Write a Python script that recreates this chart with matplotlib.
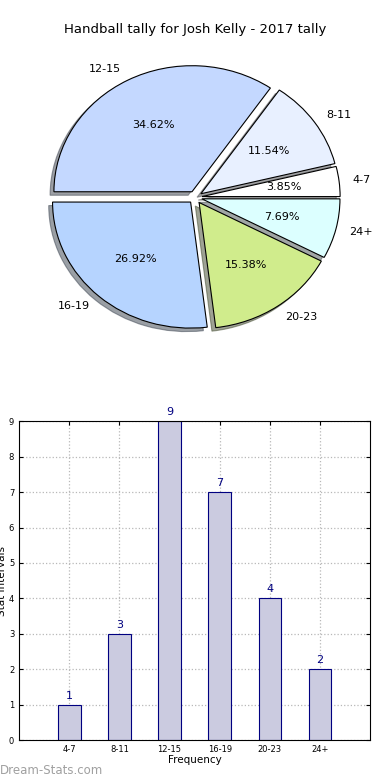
import numpy as np
import matplotlib
matplotlib.use('Agg')
import matplotlib.pyplot as plt

# Data
categories = ['4-7', '8-11', '12-15', '16-19', '20-23', '24+']
counts = [1, 3, 9, 7, 4, 2]
pie_colors = ['#ffffff', '#e8f0ff', '#c4d8ff', '#b6d4ff', '#d0ec8c', '#dcffff']

fig = plt.figure(figsize=(3.9, 7.8), dpi=100)

# Pie chart on top
ax1 = fig.add_axes([0.058, 0.545, 0.885, 0.404])
wedges, texts, autotexts = ax1.pie(counts, labels=categories, colors=pie_colors,
                                   explode=[0.05] * len(counts), autopct='%.2f%%',
                                   shadow=True, startangle=0, counterclock=True,
                                   wedgeprops={'edgecolor': 'black', 'linewidth': 0.8},
                                   textprops={'fontsize': 8})
ax1.set_aspect('auto')
ax1.set_xlim(-1.25, 1.25)
ax1.set_ylim(-1.25, 1.25)
fig.text(0.5, 0.962, 'Handball tally for Josh Kelly - 2017 tally', ha='center', va='center', fontsize=9.5)

# Bar chart below
ax2 = fig.add_axes([0.049, 0.051, 0.9, 0.409])
x = np.arange(len(categories))
ax2.bar(x, counts, width=0.45, color='#cbcbe0', edgecolor='#000080', linewidth=0.8, zorder=2)
for xi, c in zip(x, counts):
    ax2.text(xi, c + 0.12, str(c), ha='center', va='bottom', color='#000080', fontsize=8)
ax2.set_xlim(-1, 6)
ax2.set_ylim(0, 9)
ax2.set_xticks(x)
ax2.set_xticklabels(categories)
ax2.set_yticks(range(10))
ax2.tick_params(labelsize=6, direction='in', top=True, right=True, length=3)
ax2.grid(True, linestyle=':', color='#b8b8b8', linewidth=0.9, zorder=0)
ax2.set_axisbelow(True)
ax2.set_xlabel('Frequency', fontsize=7.5, labelpad=1)
ax2.set_ylabel('Stat intervals', fontsize=7.5, labelpad=1)

fig.text(0.0, 0.012, 'Dream-Stats.com', color='#a0a0a0', fontsize=8.5, ha='left', va='center')

plt.savefig('out.png', dpi=100)
